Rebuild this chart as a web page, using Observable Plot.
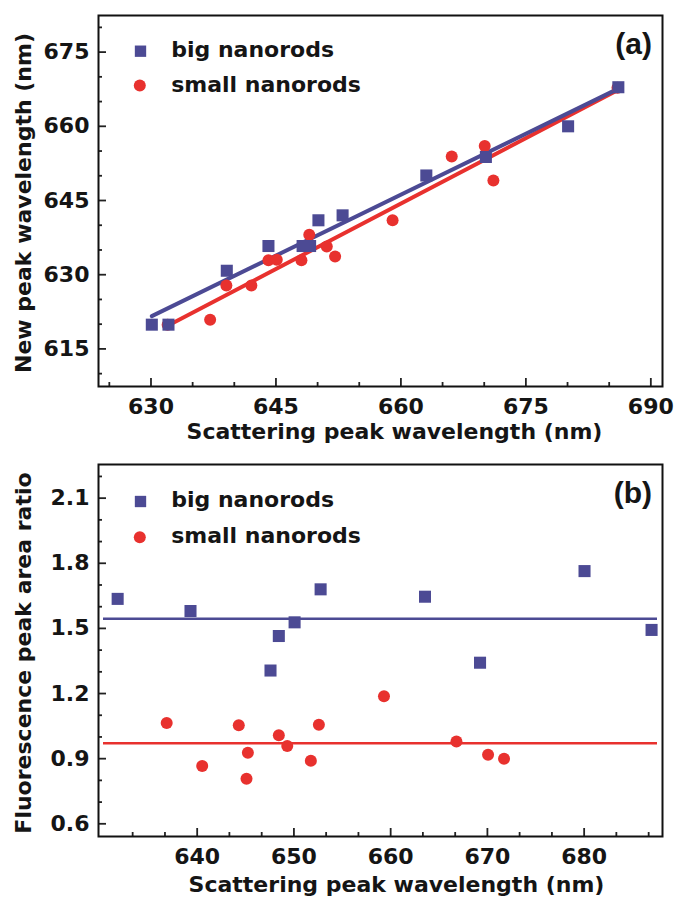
<!DOCTYPE html>
<html><head><meta charset="utf-8">
<script src="https://cdn.jsdelivr.net/npm/d3@7"></script>
<script src="https://cdn.jsdelivr.net/npm/@observablehq/plot@0.6"></script>
<style>html,body{margin:0;padding:0;background:#fff;} #chart svg{display:block;}</style>
</head><body><div id="chart"></div>
<script>
// Panel (a)
const bigScatterA = [630.1, 632.1, 639.1, 644.1, 648.2, 649.1, 650.1, 653.0, 663.05, 670.2, 680.07, 686.1];
const bigNewA     = [619.9, 619.9, 630.8, 635.8, 635.8, 635.8, 641.0, 642.0, 650.06, 653.8, 660.0, 667.9];
const smallScatterA = [632.0, 637.1, 639.05, 642.05, 644.1, 645.1, 648.06, 649.0, 651.1, 652.1, 659.0, 666.1, 670.06, 671.1, 686.0];
const smallNewA     = [619.9, 620.9, 627.8, 627.8, 632.9, 633.0, 632.9, 638.1, 635.7, 633.7, 641.0, 653.9, 656.0, 649.05, 667.8];
// Panel (b)
const bigScatterB = [631.78, 639.31, 647.58, 648.44, 650.07, 652.76, 663.55, 669.24, 680.04, 686.97];
const bigRatioB   = [1.636, 1.580, 1.306, 1.465, 1.528, 1.680, 1.646, 1.342, 1.764, 1.493];
const smallScatterB = [636.85, 640.52, 644.3, 645.24, 645.1, 648.44, 649.31, 651.75, 652.58, 659.31, 666.8, 670.07, 671.72];
const smallRatioB   = [1.064, 0.866, 1.054, 0.927, 0.808, 1.008, 0.958, 0.890, 1.056, 1.188, 0.979, 0.918, 0.900];
// Ticks
const xMajorA = [630, 645, 660, 675, 690];
const xMinorA = [625, 635, 640, 650, 655, 665, 670, 680, 685];
const yMajorA = [615, 630, 645, 660, 675];
const yMinorA = [610, 620, 625, 635, 640, 650, 655, 665, 670, 680];
const xMajorB = [640, 650, 660, 670, 680];
const xMinorB = [633.33, 636.67, 643.33, 646.67, 653.33, 656.67, 663.33, 666.67, 673.33, 676.67, 683.33, 686.67];
const yMajorB = [0.6, 0.9, 1.2, 1.5, 1.8, 2.1];
const yMinorB = [0.7, 0.8, 1.0, 1.1, 1.3, 1.4, 1.6, 1.7, 1.9, 2.0, 2.2];
const legendLabels = ["big nanorods", "small nanorods"];
const xTitle = "Scattering peak wavelength (nm)";

const blue = "#4c4a94", red = "#e8312e", ink = "#151515";
const zip = (xs, ys) => xs.map((x, i) => ({x, y: ys[i]}));
const bigA = zip(bigScatterA, bigNewA), smallA = zip(smallScatterA, smallNewA);
const bigB = zip(bigScatterB, bigRatioB), smallB = zip(smallScatterB, smallRatioB);

function axes(xMaj, xMin, yMaj, yMin, yFmt) {
  const common = {stroke: "#222", strokeWidth: 1.8, label: null, fill: ink, fontSize: 22};
  return [
    Plot.axisX({...common, ticks: xMin, anchor: "bottom", tickSize: -4, tickFormat: () => ""}),
    Plot.axisX({...common, ticks: xMaj, anchor: "bottom", tickSize: -8, tickPadding: 20, tickFormat: d => String(d)}),
    Plot.axisY({...common, ticks: yMin, anchor: "left", tickSize: -4, tickFormat: () => ""}),
    Plot.axisY({...common, ticks: yMaj, anchor: "left", tickSize: -8, tickPadding: 17, tickFormat: yFmt})
  ];
}
const txt = {text: d => d, lineAnchor: "middle", fontSize: 22, fill: ink};
function legend(dyTop) {
  return [
    Plot.dot([0], {frameAnchor: "top-left", dx: 42, dy: dyTop[0], symbol: "square", r: 6.4, fill: blue}),
    Plot.dot([0], {frameAnchor: "top-left", dx: 41.3, dy: dyTop[1], r: 6, fill: red}),
    Plot.text([legendLabels[0]], {...txt, frameAnchor: "top-left", dx: 72.7, dy: dyTop[2], textAnchor: "start"}),
    Plot.text([legendLabels[1]], {...txt, frameAnchor: "top-left", dx: 72.7, dy: dyTop[3], textAnchor: "start"})
  ];
}
const style = {fontFamily: "'DejaVu Sans', sans-serif", fontWeight: "bold", fontSize: "22px", color: ink, background: "#fff"};
const panelFont = "'Liberation Sans', Arial, sans-serif";

const plotA = Plot.plot({
  width: 675, height: 450, marginTop: 15, marginBottom: 64, marginLeft: 98, marginRight: 13,
  style,
  x: {domain: [623.7, 691.4]},
  y: {domain: [607.4, 682.4]},
  marks: [
    Plot.linearRegressionY(smallA, {x: "x", y: "y", stroke: red, strokeWidth: 4, ci: 0}),
    Plot.linearRegressionY(bigA, {x: "x", y: "y", stroke: blue, strokeWidth: 4, ci: 0}),
    Plot.dot(smallA, {x: "x", y: "y", r: 6, fill: red}),
    Plot.dot(bigA, {x: "x", y: "y", symbol: "square", r: 6.8, fill: blue}),
    ...axes(xMajorA, xMinorA, yMajorA, yMinorA, d => String(d)),
    ...legend([35.7, 70, 34.5, 69.5]),
    Plot.text(["(a)"], {...txt, frameAnchor: "top-right", dx: -10.5, dy: 29, textAnchor: "end", fontFamily: panelFont, fontSize: 30}),
    Plot.text([xTitle], {...txt, frameAnchor: "bottom", textAnchor: "middle", dx: 14, dy: 45.5}),
    Plot.text(["New peak wavelength (nm)"], {...txt, frameAnchor: "left", textAnchor: "middle", dx: -74.6, dy: 2, rotate: -90}),
    Plot.frame({stroke: "#111", strokeWidth: 2})
  ]
});

const plotB = Plot.plot({
  width: 675, height: 447, marginTop: 14, marginBottom: 61, marginLeft: 98, marginRight: 13,
  style,
  x: {domain: [629.8, 688.1]},
  y: {domain: [0.5415, 2.255]},
  marks: [
    Plot.ruleY([d3.mean(smallB, d => d.y)], {stroke: red, strokeWidth: 2.5, insetLeft: 5, insetRight: 5}),
    Plot.ruleY([d3.mean(bigB, d => d.y)], {stroke: blue, strokeWidth: 2.5, insetLeft: 5, insetRight: 5}),
    Plot.dot(smallB, {x: "x", y: "y", r: 6, fill: red}),
    Plot.dot(bigB, {x: "x", y: "y", symbol: "square", r: 6.8, fill: blue}),
    ...axes(xMajorB, xMinorB, yMajorB, yMinorB, d3.format(".1f")),
    ...legend([37, 72.7, 35.5, 71]),
    Plot.text(["(b)"], {...txt, frameAnchor: "top-right", dx: -10.5, dy: 28.4, textAnchor: "end", fontFamily: panelFont, fontSize: 30}),
    Plot.text([xTitle], {...txt, frameAnchor: "bottom", textAnchor: "middle", dx: 16, dy: 48}),
    Plot.text(["Fluorescence peak area ratio"], {...txt, frameAnchor: "left", textAnchor: "middle", dx: -74.6, dy: 2.5, rotate: -90}),
    Plot.frame({stroke: "#111", strokeWidth: 2})
  ]
});

const root = document.getElementById("chart");
root.appendChild(plotA);
root.appendChild(plotB);
</script>
</body></html>
